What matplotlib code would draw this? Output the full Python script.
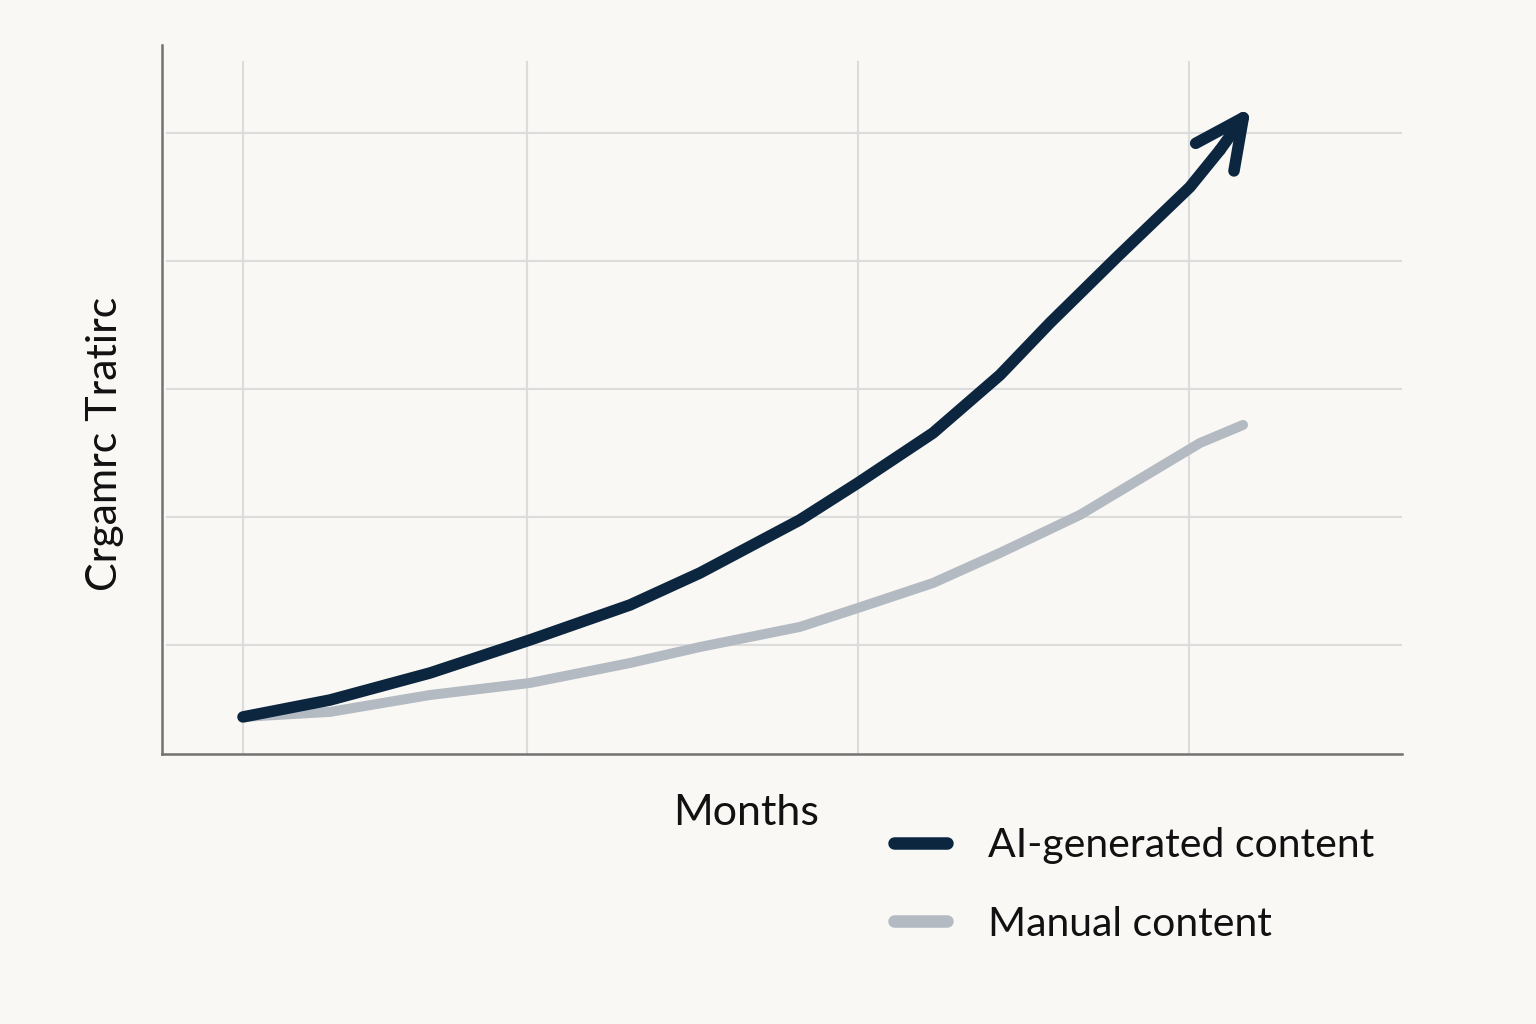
import matplotlib
matplotlib.use("Agg")
import matplotlib.pyplot as plt
from matplotlib.lines import Line2D

# ---- data ----
ai_x = [0, 0.789, 1.695, 2.601, 3.508, 4.142, 5.048, 5.574, 6.254, 6.861, 7.314, 7.922, 8.583, 8.855]
ai_y = [0.4375, 0.570, 0.781, 1.039, 1.3125, 1.5625, 1.977, 2.266, 2.656, 3.109, 3.516, 4.031, 4.578, 4.867]
arrow_tip = (9.136, 5.203)
man_x = [0, 0.789, 1.695, 2.601, 3.508, 4.142, 5.048, 5.574, 6.254, 6.861, 7.586, 8.674, 9.064]
man_y = [0.4375, 0.477, 0.609, 0.703, 0.859, 0.984, 1.141, 1.289, 1.484, 1.719, 2.016, 2.578, 2.719]
xgrid = [0, 2.574, 5.574, 8.574]
ygrid = [1, 2, 3, 4, 5]
labels = ["AI-generated content", "Manual content"]
xlabel = "Months"
ylabel = "Crgamrc Tratirc"

BG = "#f9f8f5"
AI_C = "#0c2640"
MAN_C = "#b4bac1"

plt.rcParams['font.family'] = ['Lato', 'DejaVu Sans']

W, H = 1536, 1024
fig = plt.figure(figsize=(W / 100, H / 100), dpi=100, facecolor=BG)
left, right, top, bottom = 162, 1402, 45, 754
ax = fig.add_axes([left / W, 1 - bottom / H, (right - left) / W, (bottom - top) / H])
ax.set_facecolor(BG)
ax.set_xlim(-0.734, 10.505)
ax.set_ylim(0.148, 5.6875)

for s in ['top', 'right']:
    ax.spines[s].set_visible(False)
for s in ['left', 'bottom']:
    ax.spines[s].set_color('#727272')
    ax.spines[s].set_linewidth(1.8)
ax.set_xticks([])
ax.set_yticks([])

vtop = (bottom - 62) / (bottom - top)
for gx in xgrid:
    ax.axvline(gx, ymin=0, ymax=vtop, color='#dcdcdc', lw=1.5, zorder=0)
for gy in ygrid:
    ax.axhline(gy, xmin=5 / (right - left), xmax=1, color='#dcdcdc', lw=1.5, zorder=0)

ax.plot(man_x, man_y, color=MAN_C, lw=7.2, solid_capstyle='round', solid_joinstyle='round', zorder=2)
ax.plot(ai_x, ai_y, color=AI_C, lw=8.3, solid_capstyle='round', solid_joinstyle='round', zorder=3)
ax.annotate('', xy=arrow_tip, xytext=(ai_x[-1], ai_y[-1]),
            arrowprops=dict(arrowstyle='->,head_length=1.75,head_width=0.85', mutation_scale=20,
                            color=AI_C, lw=8.3, capstyle='round', joinstyle='round',
                            shrinkA=0, shrinkB=0), zorder=4)

fig.text(746 / W, 1 - 813 / H, xlabel, ha='center', va='center', fontsize=31, color='#111111')
fig.text(105 / W, 1 - 444 / H, ylabel, ha='center', va='center', rotation=90, fontsize=31, color='#111111')

handles = [Line2D([0], [0], color=AI_C, lw=9, solid_capstyle='round'),
           Line2D([0], [0], color=MAN_C, lw=9, solid_capstyle='round')]
leg = fig.legend(handles, labels, loc='upper left', bbox_to_anchor=(894 / W, 1 - 827 / H),
                 frameon=False, fontsize=29.5, handlelength=1.3, handletextpad=1.0, labelspacing=1.02,
                 borderaxespad=0, borderpad=0)
for t in leg.get_texts():
    t.set_color('#111111')

fig.savefig('out.png', dpi=100, facecolor=BG)
